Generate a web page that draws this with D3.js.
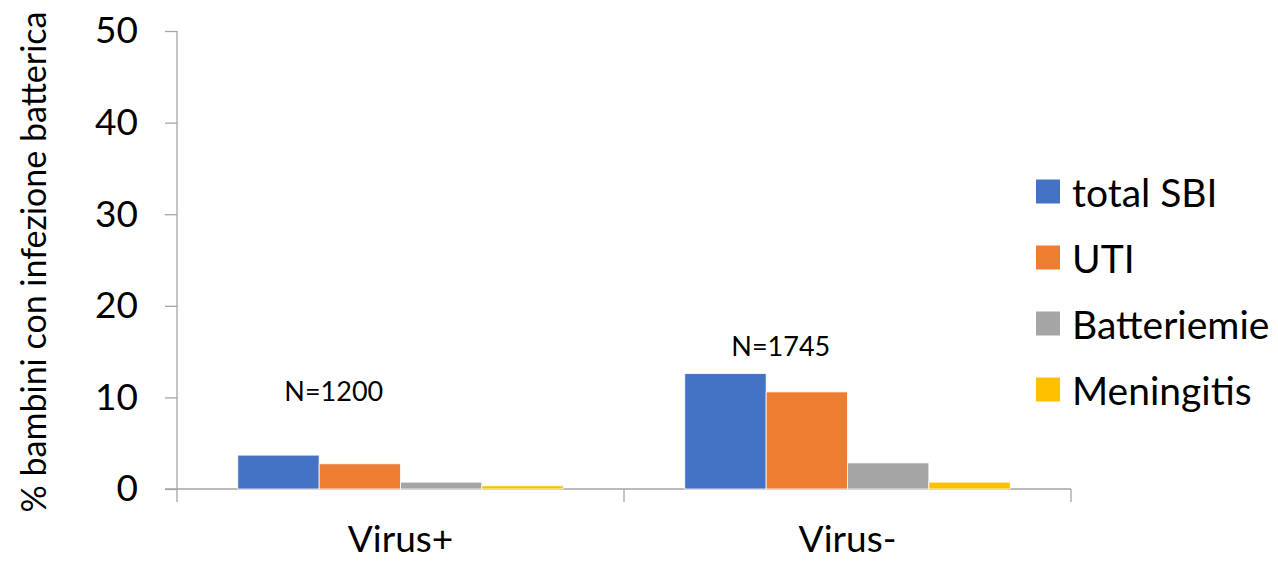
<!DOCTYPE html>
<html><head><meta charset="utf-8">
<script src="https://cdn.jsdelivr.net/npm/d3@7"></script>
<style>html,body{margin:0;padding:0;background:#fff;}svg{display:block;font-family:Lato,"Open Sans",sans-serif;}</style>
</head><body>
<svg id="c" width="1278" height="561"></svg>
<script>
const categories = ["Virus+", "Virus-"];
const seriesNames = ["total SBI", "UTI", "Batteriemie", "Meningitis"];
const totalSBI = [3.7, 12.6];
const uti = [2.75, 10.6];
const batteriemie = [0.75, 2.85];
const meningitis = [0.35, 0.75];
const nLabels = ["N=1200", "N=1745"];
const nLabelValues = [10.3, 15.3];
const yTicks = [0, 10, 20, 30, 40, 50];
const colors = ["#4472C4", "#ED7D31", "#A5A5A5", "#FFC000"];
const yTitle = "% bambini con infezione batterica";

const series = [totalSBI, uti, batteriemie, meningitis];
const svg = d3.select("#c");
const mLeft = 177, mRight = 1071, mTop = 31, mBottom = 489;

const x = d3.scaleBand().domain(categories).range([mLeft, mRight]).paddingInner(0).paddingOuter(0);
const y = d3.scaleLinear().domain([0, 50]).range([mBottom, mTop]);
const groupPad = 0.136;
const x1 = d3.scaleBand().domain(seriesNames)
  .range([x.bandwidth() * groupPad, x.bandwidth() * (1 - groupPad)]).padding(0);

// y axis
const yAxis = d3.axisLeft(y).tickValues(yTicks).tickSize(12).tickPadding(27);
const gy = svg.append("g").attr("transform", `translate(${mLeft},0)`).call(yAxis);
gy.select(".domain").attr("stroke", "#A6A6A6").attr("stroke-width", 1.3).attr("d", `M0,${mTop}V${mBottom + 13}`);
gy.selectAll(".tick line").attr("stroke", "#A6A6A6").attr("stroke-width", 1.3);
gy.selectAll(".tick text").attr("font-size", 37).attr("fill", "#000").attr("font-family", "Lato");

// x axis
const xAxis = d3.axisBottom(x).tickSize(0).tickPadding(37);
const gx = svg.append("g").attr("transform", `translate(0,${mBottom})`).call(xAxis);
gx.select(".domain").attr("stroke", "#A6A6A6").attr("stroke-width", 1.3).attr("d", `M${mLeft - 12},0H${mRight}`);
gx.selectAll(".tick text").attr("font-size", 37).attr("fill", "#000").attr("font-family", "Lato");
// category separators
const seps = categories.map(c => x(c) + x.bandwidth());
svg.append("g").selectAll("line").data(seps).join("line")
  .attr("x1", d => d).attr("x2", d => d).attr("y1", mBottom).attr("y2", mBottom + 13)
  .attr("stroke", "#A6A6A6").attr("stroke-width", 1.3);

// bars
const gBars = svg.append("g");
categories.forEach((c, ci) => {
  seriesNames.forEach((s, si) => {
    const v = series[si][ci];
    gBars.append("rect")
      .attr("x", x(c) + x1(s))
      .attr("width", x1.bandwidth())
      .attr("y", y(v))
      .attr("height", y(0) - y(v))
      .attr("fill", colors[si])
      .attr("stroke", "#fff").attr("stroke-width", 0.8);
  });
});

// N labels
svg.append("g").selectAll("text").data(categories).join("text")
  .attr("x", (c, i) => x(c) + x1(seriesNames[1]) + x1.bandwidth() * 0.18)
  .attr("y", (c, i) => y(nLabelValues[i]))
  .attr("text-anchor", "middle").attr("dominant-baseline", "middle")
  .attr("font-size", 27).attr("fill", "#000")
  .text((c, i) => nLabels[i]);

// y title
svg.append("text")
  .attr("transform", `translate(46,262) rotate(-90)`)
  .attr("text-anchor", "middle")
  .attr("font-size", 34).attr("fill", "#000")
  .text(yTitle);

// legend
const leg = svg.append("g");
seriesNames.forEach((s, i) => {
  const cy = 191.5 + i * 66;
  leg.append("rect").attr("x", 1036).attr("y", cy - 12).attr("width", 24).attr("height", 24).attr("fill", colors[i]);
  leg.append("text").attr("x", 1072).attr("y", cy).attr("dominant-baseline", "central")
    .attr("font-size", 39).attr("fill", "#000").text(s);
});
</script>
</body></html>
